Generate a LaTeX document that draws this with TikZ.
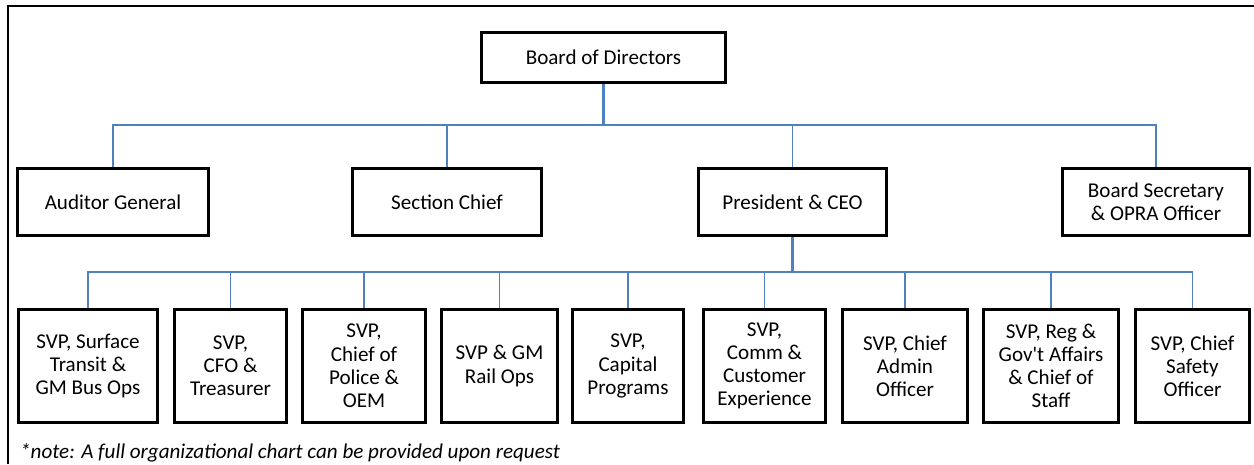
\documentclass[tikz,border=0pt]{standalone}
\usepackage{fontspec}
\setmainfont{Carlito}
\usepackage{tikz}
\definecolor{linkblue}{RGB}{79,129,189}
\tikzset{link/.style={draw=linkblue,line width=0.7pt},
  trunk/.style={draw=linkblue,line width=1.3pt}}

\begin{document}
\begin{tikzpicture}[x=0.02cm,y=-0.02cm]
\useasboundingbox (0,0) rectangle (1254,464);
\draw[line width=1.1pt] (8,464) -- (8,6) -- (1254,6);

\begin{scope}[every node/.style={rectangle,draw,line width=2pt,inner sep=1pt,align=center,font=\fontsize{12}{13.2}\selectfont}]
\node (bod) [minimum width=4.88cm,minimum height=1.00cm] at (603.5,57.5) {Board of Directors};

\node (aud) [minimum width=3.82cm,minimum height=1.34cm] at (113,202) {Auditor General};
\node (sec) [minimum width=3.78cm,minimum height=1.34cm] at (447,202) {Section Chief};
\node (ceo) [minimum width=3.76cm,minimum height=1.34cm] at (792.5,202) {President \& CEO};
\node (bsec) [minimum width=3.74cm,minimum height=1.34cm] at (1156,202) {Board Secretary\\ \& OPRA Officer};

\node (s1) [minimum width=2.78cm,minimum height=2.26cm] at (88,366) {SVP, Surface\\ Transit \&\\ GM Bus Ops};
\node (s2) [minimum width=2.24cm,minimum height=2.26cm] at (230.5,366) {SVP,\\ CFO \&\\ Treasurer};
\node (s3) [minimum width=2.46cm,minimum height=2.26cm] at (364,366) {SVP,\\ Chief of\\ Police \&\\ OEM};
\node (s4) [minimum width=2.32cm,minimum height=2.26cm] at (499.5,366) {SVP \& GM\\ Rail Ops};
\node (s5) [minimum width=2.22cm,minimum height=2.26cm] at (628,366) {SVP,\\ Capital\\ Programs};
\node (s6) [minimum width=2.44cm,minimum height=2.26cm] at (764.5,366) {SVP,\\ Comm \&\\ Customer\\ Experience};
\node (s7) [minimum width=2.50cm,minimum height=2.26cm] at (905,366) {SVP, Chief\\ Admin\\ Officer};
\node (s8) [minimum width=2.70cm,minimum height=2.26cm] at (1051,366) {SVP, Reg \&\\ Gov\textquotesingle t Affairs\\ \& Chief of\\ Staff};
\node (s9) [minimum width=2.28cm,minimum height=2.26cm] at (1192.5,366) {SVP, Chief\\ Safety\\ Officer};
\end{scope}

\coordinate (j1) at (603.5,125);
\coordinate (j2) at (792.5,272);

\draw[trunk] (bod.south) -- (j1);
\draw[link] (j1) -| (aud.north);
\draw[link] (j1) -| (sec.north);
\draw[link] (j1) -| (ceo.north);
\draw[link] (j1) -| (bsec.north);

\draw[trunk] (ceo.south) -- (j2);
\draw[link] (j2) -| (s1.north);
\draw[link] (j2) -| (s2.north);
\draw[link] (j2) -| (s3.north);
\draw[link] (j2) -| (s4.north);
\draw[link] (j2) -| (s5.north);
\draw[link] (j2) -| (s6.north);
\draw[link] (j2) -| (s7.north);
\draw[link] (j2) -| (s8.north);
\draw[link] (j2) -| (s9.north);

\node (note) [anchor=base west,font=\fontsize{12}{14}\selectfont\itshape] at (14,458) {*note: A full organizational chart can be provided upon request};
\end{tikzpicture}
\end{document}
